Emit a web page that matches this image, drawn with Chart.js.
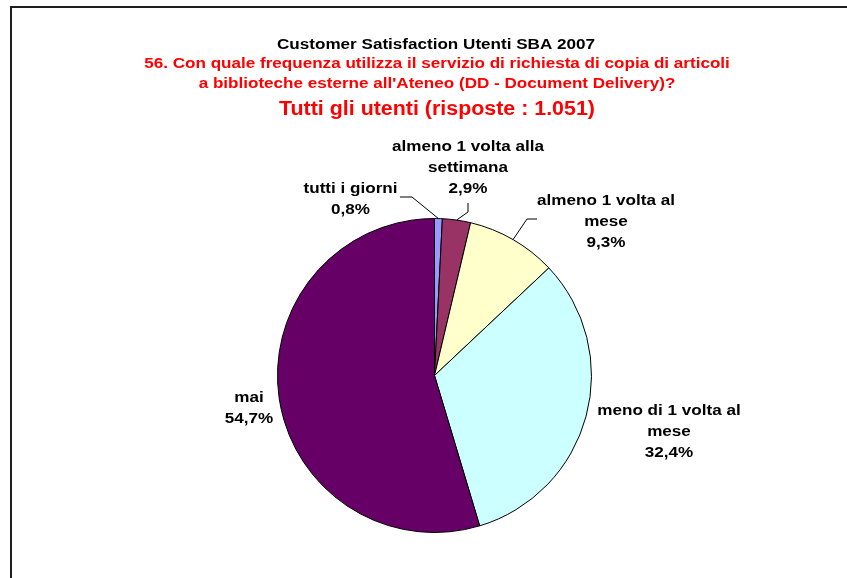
<!DOCTYPE html>
<html>
<head>
<meta charset="utf-8">
<script src="https://cdn.jsdelivr.net/npm/chart.js@4/dist/chart.umd.min.js"></script>
<style>
  html, body { margin: 0; padding: 0; background: #fff; }
  #wrap { width: 847px; height: 578px; position: relative; }
</style>
</head>
<body>
<div id="wrap"><canvas id="c" width="847" height="578"></canvas></div>
<script>
// Survey answers: how often the DD service is used
const categories = [
  'tutti i giorni',
  'almeno 1 volta alla settimana',
  'almeno 1 volta al mese',
  'meno di 1 volta al mese',
  'mai'
];
const shares = [0.8, 2.9, 9.3, 32.4, 54.7];
// label text split over lines, as printed beside each slice
const labelLines = [
  ['tutti i giorni'],
  ['almeno 1 volta alla', 'settimana'],
  ['almeno 1 volta al', 'mese'],
  ['meno di 1 volta al', 'mese'],
  ['mai']
];
const sliceColors = ['#9999FF', '#993366', '#FFFFCC', '#CCFFFF', '#660066'];

const titleLines = [
  'Customer Satisfaction Utenti SBA 2007',
  '56. Con quale frequenza utilizza il servizio di richiesta di copia di articoli',
  "a biblioteche esterne all'Ateneo (DD - Document Delivery)?",
  'Tutti gli utenti (risposte : 1.051)'
];

// label placement relative to the pie centre: text centre x, first baseline y
const labelPlacement = [
  { dx: -84,   dy: -182.5, leader: [[-34.5, -178.5], [-22.5, -178.5]] },
  { dx: 33.5,  dy: -224.5, leader: [[33.5, -172.5], [33.5, -163.5]] },
  { dx: 171.5, dy: -170.5, leader: [[102.5, -156.5], [92.5, -156.5]] },
  { dx: 234.5, dy: 39.5,   leader: null },
  { dx: -185.5, dy: 26.5,  leader: null }
];

const FONT = '"Liberation Sans", Arial, Helvetica, sans-serif';

function stretchedText(ctx, text, cx, baseline, size, color, sx) {
  ctx.save();
  ctx.font = 'bold ' + size + 'px ' + FONT;
  ctx.fillStyle = color;
  ctx.textAlign = 'center';
  ctx.textBaseline = 'alphabetic';
  ctx.translate(cx, baseline);
  ctx.scale(sx, 1);
  ctx.fillText(text, 0, 0);
  ctx.restore();
}

const pctText = v => v.toFixed(1).replace('.', ',') + '%';

const decorations = {
  id: 'decorations',
  beforeDraw(chart) {
    const ctx = chart.ctx;
    ctx.save();
    ctx.fillStyle = '#fff';
    ctx.fillRect(0, 0, chart.width, chart.height);
    // outer frame (top and left edges visible)
    ctx.strokeStyle = '#1e1e1e';
    ctx.lineWidth = 2;
    ctx.beginPath();
    ctx.moveTo(11, chart.height + 5);
    ctx.lineTo(11, 7);
    ctx.lineTo(chart.width + 5, 7);
    ctx.stroke();
    ctx.restore();

    // titles
    stretchedText(ctx, titleLines[0], 436, 49, 14, '#000000', 1.22);
    stretchedText(ctx, titleLines[1], 437, 68, 14, '#FF0000', 1.22);
    stretchedText(ctx, titleLines[2], 437, 88, 14, '#FF0000', 1.22);
    stretchedText(ctx, titleLines[3], 437, 115, 20, '#FF0000', 1.07);
  },
  afterDatasetsDraw(chart) {
    const ctx = chart.ctx;
    const arcs = chart.getDatasetMeta(0).data;
    arcs.forEach((arc, i) => {
      const { x, y, startAngle, endAngle, outerRadius } = arc.getProps(['x', 'y', 'startAngle', 'endAngle', 'outerRadius'], true);
      const mid = (startAngle + endAngle) / 2;
      const px = x + Math.cos(mid) * outerRadius;
      const py = y + Math.sin(mid) * outerRadius;
      const p = labelPlacement[i];
      if (p.leader) {
        ctx.save();
        ctx.strokeStyle = '#000';
        ctx.lineWidth = 1;
        ctx.beginPath();
        ctx.moveTo(x + p.leader[0][0], y + p.leader[0][1]);
        ctx.lineTo(x + p.leader[1][0], y + p.leader[1][1]);
        ctx.lineTo(px, py);
        ctx.stroke();
        ctx.restore();
      }
      const lines = labelLines[i].concat([pctText(shares[i])]);
      lines.forEach((t, k) => {
        stretchedText(ctx, t, x + p.dx, y + p.dy + k * 21, 15, '#000', 1.14);
      });
    });
  }
};

new Chart(document.getElementById('c'), {
  type: 'pie',
  data: {
    labels: categories,
    datasets: [{
      data: shares,
      backgroundColor: sliceColors,
      borderColor: '#000',
      borderWidth: 1
    }]
  },
  options: {
    responsive: false,
    animation: false,
    layout: { padding: { left: 277, top: 218, right: 255, bottom: 45 } },
    plugins: {
      legend: { display: false },
      tooltip: { enabled: false },
      title: { display: false }
    }
  },
  plugins: [decorations]
});
</script>
</body>
</html>
